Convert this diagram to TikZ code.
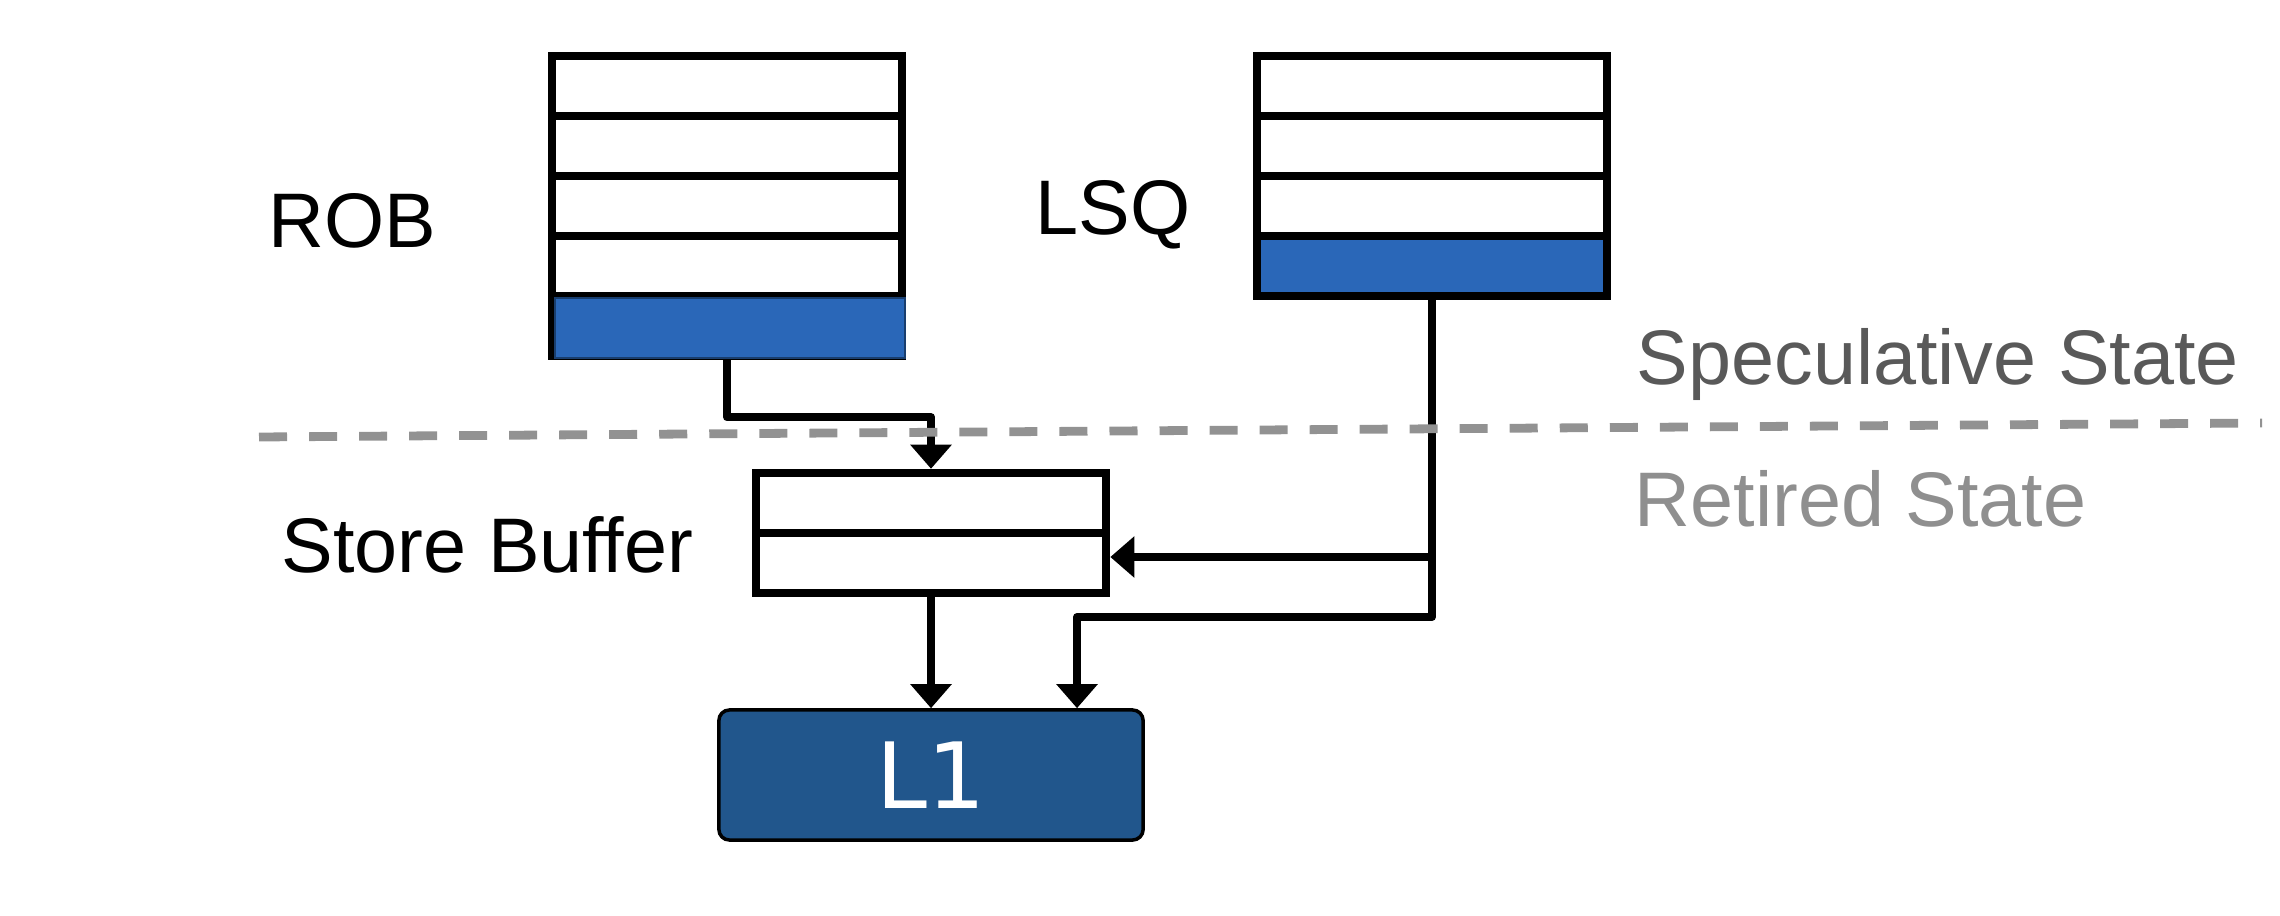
\documentclass[tikz,border=0pt]{standalone}
\usepackage{fontspec}
\setmainfont{Liberation Sans}
\newfontfamily\lonefont{DejaVu Sans}
\usepackage{tikz}
\usetikzlibrary{arrows.meta, positioning, calc}
\definecolor{cellblue}{RGB}{42,103,184}
\definecolor{cacheblue}{RGB}{33,86,140}
\definecolor{specgray}{RGB}{89,89,89}
\definecolor{retgray}{RGB}{143,143,143}
\definecolor{dashgray}{RGB}{146,146,146}

\begin{document}
\begin{tikzpicture}[x=0.01cm, y=-0.01cm,
    cell/.style={draw, line width=2.4pt, minimum width=3.5cm, minimum height=0.6cm, inner sep=0pt},
    wire/.style={line width=2.3pt, line join=round, -{Triangle[width=0.4cm, length=0.24cm]}},
    lbl/.style={font=\fontsize{22}{26}\selectfont, inner sep=0pt, anchor=base west}]
    \useasboundingbox (0,0) rectangle (2280,916);

    % ROB
    \foreach \i/\y in {1/86, 2/146, 3/206, 4/266, 5/326}
        \node[cell] (rob\i) at (727,\y) {};
    \fill[cellblue, draw=cellblue!60!black, line width=0.5pt] (555,298) rectangle (905,358);
    \node[lbl] (roblbl) at (268,248) {ROB};

    % LSQ
    \foreach \i/\y/\c in {1/86/white, 2/146/white, 3/206/white, 4/266/cellblue}
        \node[cell, fill=\c] (lsq\i) at (1432,\y) {};
    \node[lbl] (lsqlbl) at (1035,235) {LSQ};

    % Store Buffer
    \foreach \i/\y in {1/503, 2/563}
        \node[cell] (sb\i) at (931,\y) {};
    \node[lbl] (sblbl) at (281,572) {Store Buffer};

    % L1
    \node[draw, line width=1pt, rounded corners=3pt, fill=cacheblue, minimum width=4.24cm,
        minimum height=1.3cm, text=white, font=\lonefont\fontsize{26}{30}\selectfont] (l1) at (931,775) {L1};

    % Connectors
    \coordinate (tap) at (1432,557);
    \draw[wire] (rob5.south) -- ++(0,57) -| (sb1.north);
    \draw[wire] (lsq4.south) -- (tap) -- (tap -| sb2.east);
    \draw[wire] (tap) -- ++(0,60) -| ($(l1.north)+(146,0)$);
    \draw[wire] (sb2.south) -- (l1.north);

    % States
    \draw[dashgray, line width=2.5pt, dash pattern=on 0.28cm off 0.22cm] (259,437) -- (2262,423);
    \node[lbl, text=specgray] (spec) at (1636,385) {Speculative State};
    \node[lbl, text=retgray] (ret) at (1634,526) {Retired State};
\end{tikzpicture}
\end{document}
